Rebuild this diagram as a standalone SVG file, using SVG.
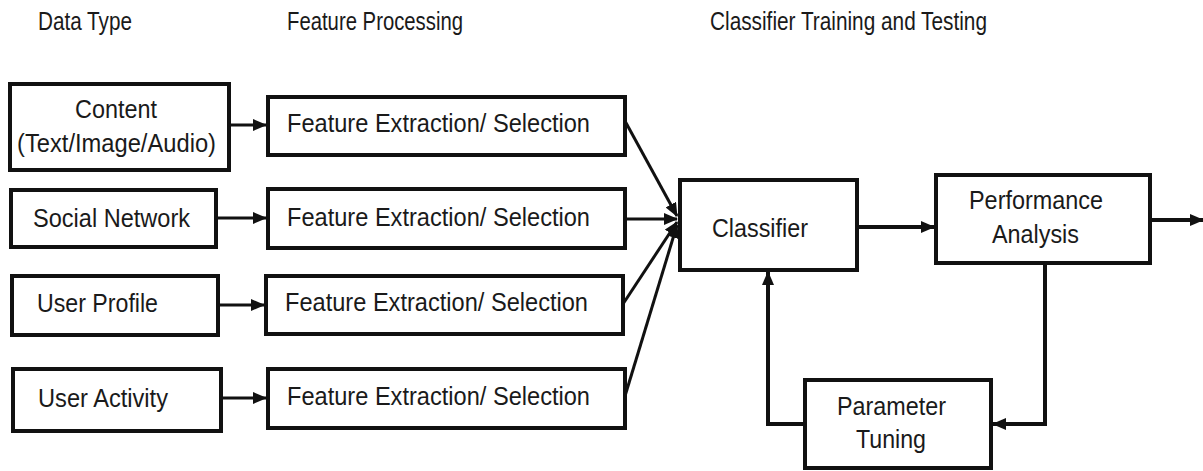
<svg xmlns="http://www.w3.org/2000/svg" width="1203" height="471" viewBox="0 0 1203 471">
<style>
.box{fill:#fff;stroke:#111;stroke-width:4}
.t{font-family:"Liberation Sans",Arial,sans-serif;font-size:26px;fill:#1a1a1a}
.h{font-size:25px}
.c{fill:none;stroke:#111;stroke-width:3}
</style>
<defs>
<marker id="ah" markerUnits="userSpaceOnUse" markerWidth="14" markerHeight="12" refX="13" refY="6" orient="auto">
<path d="M0,0 L14,6 L0,12 Z" fill="#111"/>
</marker>
</defs>
<g id="headers">
<text class="t h" x="38" y="30" textLength="94" lengthAdjust="spacingAndGlyphs">Data Type</text>
<text class="t h" x="287" y="30" textLength="176" lengthAdjust="spacingAndGlyphs">Feature Processing</text>
<text class="t h" x="710" y="30" textLength="277" lengthAdjust="spacingAndGlyphs">Classifier Training and Testing</text>
</g>
<g id="content">
<rect class="box" x="10" y="84" width="219" height="86"/>
<text class="t" x="75" y="118" textLength="82" lengthAdjust="spacingAndGlyphs">Content</text>
<text class="t" x="17" y="152" textLength="199" lengthAdjust="spacingAndGlyphs">(Text/Image/Audio)</text>
</g>
<g id="social">
<rect class="box" x="11" y="190" width="205" height="57"/>
<text class="t" x="33" y="227" textLength="157" lengthAdjust="spacingAndGlyphs">Social Network</text>
</g>
<g id="profile">
<rect class="box" x="12" y="276" width="206" height="59"/>
<text class="t" x="37" y="312" textLength="121" lengthAdjust="spacingAndGlyphs">User Profile</text>
</g>
<g id="activity">
<rect class="box" x="13" y="369" width="208" height="62"/>
<text class="t" x="38" y="407" textLength="130" lengthAdjust="spacingAndGlyphs">User Activity</text>
</g>
<g id="fe1">
<rect class="box" x="268" y="97" width="357" height="58"/>
<text class="t" x="287" y="132" textLength="303" lengthAdjust="spacingAndGlyphs">Feature Extraction/ Selection</text>
</g>
<g id="fe2">
<rect class="box" x="268" y="189" width="357" height="59"/>
<text class="t" x="287" y="226" textLength="303" lengthAdjust="spacingAndGlyphs">Feature Extraction/ Selection</text>
</g>
<g id="fe3">
<rect class="box" x="266" y="276" width="357" height="58"/>
<text class="t" x="285" y="311" textLength="303" lengthAdjust="spacingAndGlyphs">Feature Extraction/ Selection</text>
</g>
<g id="fe4">
<rect class="box" x="268" y="369" width="357" height="59"/>
<text class="t" x="287" y="405" textLength="303" lengthAdjust="spacingAndGlyphs">Feature Extraction/ Selection</text>
</g>
<g id="classifier">
<rect class="box" x="680" y="180" width="177" height="90"/>
<text class="t" x="712" y="237" textLength="96" lengthAdjust="spacingAndGlyphs">Classifier</text>
</g>
<g id="performance">
<rect class="box" x="936" y="175" width="214" height="88"/>
<text class="t" x="969" y="209" textLength="134" lengthAdjust="spacingAndGlyphs">Performance</text>
<text class="t" x="992" y="243" textLength="87" lengthAdjust="spacingAndGlyphs">Analysis</text>
</g>
<g id="tuning">
<rect class="box" x="805" y="380" width="186" height="88"/>
<text class="t" x="837" y="415" textLength="109" lengthAdjust="spacingAndGlyphs">Parameter</text>
<text class="t" x="856" y="448" textLength="70" lengthAdjust="spacingAndGlyphs">Tuning</text>
</g>
<g id="connectors">
<line class="c" x1="229" y1="125" x2="266" y2="125" marker-end="url(#ah)"/>
<line class="c" x1="216" y1="218" x2="266" y2="218" marker-end="url(#ah)"/>
<line class="c" x1="218" y1="305" x2="264" y2="305" marker-end="url(#ah)"/>
<line class="c" x1="221" y1="398" x2="266" y2="398" marker-end="url(#ah)"/>
<line class="c" x1="625" y1="121" x2="677" y2="216" marker-end="url(#ah)"/>
<line class="c" x1="625" y1="219" x2="677" y2="219" marker-end="url(#ah)"/>
<line class="c" x1="623" y1="304" x2="677" y2="222" marker-end="url(#ah)"/>
<line class="c" x1="625" y1="396" x2="677" y2="225" marker-end="url(#ah)"/>
<line class="c" style="stroke-width:4" x1="857" y1="227" x2="934" y2="227" marker-end="url(#ah)"/>
<line class="c" style="stroke-width:4" x1="1150" y1="220" x2="1203" y2="220" marker-end="url(#ah)"/>
<polyline class="c" style="stroke-width:4" points="1045,263 1045,424 993,424" marker-end="url(#ah)"/>
<polyline class="c" style="stroke-width:4" points="805,424 768,424 768,272" marker-end="url(#ah)"/>
</g>
</svg>
